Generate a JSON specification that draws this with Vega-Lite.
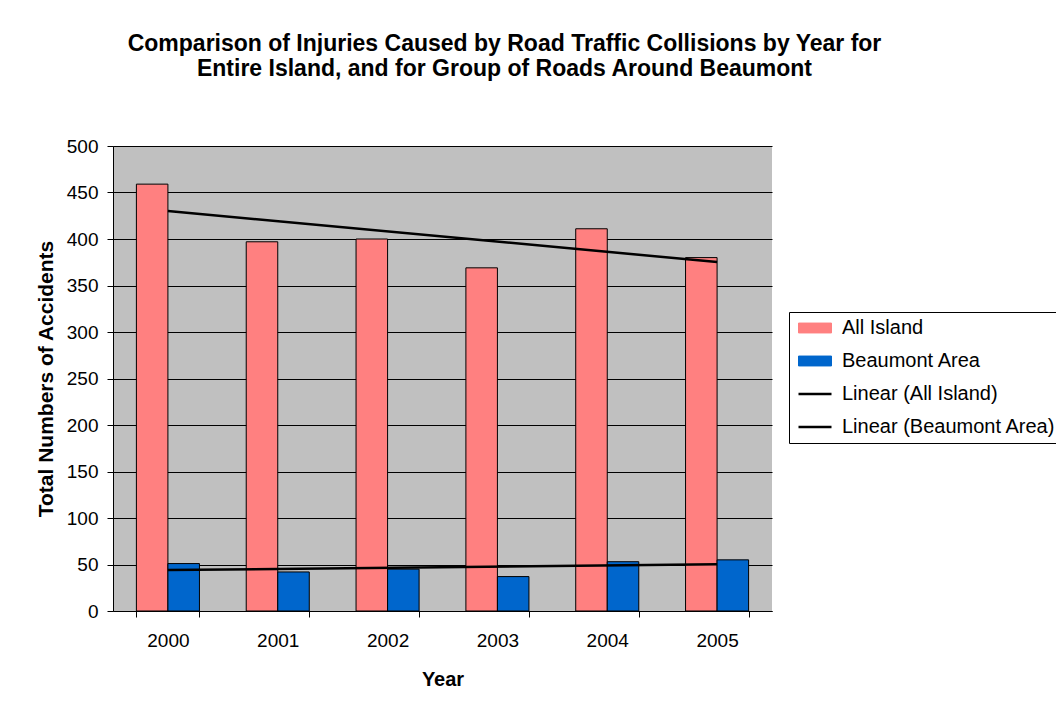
{
  "$schema": "https://vega.github.io/schema/vega-lite/v6.json",
  "width": 659,
  "height": 465,
  "autosize": {"type": "none"},
  "padding": {"left": 113, "top": 146, "right": 284, "bottom": 98},
  "background": "white",
  "config": {"view": {"fill": "#C0C0C0", "stroke": null}},
  "title": {
    "text": ["Comparison of Injuries Caused by Road Traffic Collisions by Year for", "Entire Island, and for Group of Roads Around Beaumont"],
    "font": "Liberation Sans", "fontSize": 23, "fontWeight": "bold", "color": "black",
    "anchor": "middle", "frame": "group", "dx": 62, "offset": 56, "lineHeight": 25
  },
  "data": {"values": [
    {"year": 2000, "series": "All Island", "trend": "Linear (All Island)", "value": 459},
    {"year": 2001, "series": "All Island", "trend": "Linear (All Island)", "value": 397},
    {"year": 2002, "series": "All Island", "trend": "Linear (All Island)", "value": 400},
    {"year": 2003, "series": "All Island", "trend": "Linear (All Island)", "value": 369},
    {"year": 2004, "series": "All Island", "trend": "Linear (All Island)", "value": 411},
    {"year": 2005, "series": "All Island", "trend": "Linear (All Island)", "value": 380},
    {"year": 2000, "series": "Beaumont Area", "trend": "Linear (Beaumont Area)", "value": 51},
    {"year": 2001, "series": "Beaumont Area", "trend": "Linear (Beaumont Area)", "value": 42},
    {"year": 2002, "series": "Beaumont Area", "trend": "Linear (Beaumont Area)", "value": 45},
    {"year": 2003, "series": "Beaumont Area", "trend": "Linear (Beaumont Area)", "value": 37},
    {"year": 2004, "series": "Beaumont Area", "trend": "Linear (Beaumont Area)", "value": 53},
    {"year": 2005, "series": "Beaumont Area", "trend": "Linear (Beaumont Area)", "value": 55}
  ]},
  "layer": [
    {
      "mark": {"type": "bar", "stroke": "black", "strokeWidth": 1},
      "encoding": {
        "x": {
          "field": "year", "type": "ordinal",
          "scale": {"paddingInner": 0.426, "paddingOuter": 0.213},
          "axis": {
            "title": "Year", "titleFont": "Liberation Sans", "titleFontSize": 20, "titleFontWeight": "bold", "titleColor": "black", "titlePadding": 19,
            "labelAngle": 0, "labelFont": "Liberation Sans", "labelFontSize": 19, "labelColor": "black", "labelPadding": 14,
            "tickBand": "extent", "tickColor": "black", "tickSize": 6, "domainColor": "black", "grid": false
          }
        },
        "xOffset": {"field": "series", "type": "nominal", "sort": ["All Island", "Beaumont Area"], "scale": {"paddingInner": 0, "paddingOuter": 0}},
        "y": {
          "field": "value", "type": "quantitative",
          "scale": {"domain": [0, 500], "nice": false},
          "axis": {
            "title": "Total Numbers of Accidents", "titleFont": "Liberation Sans", "titleFontSize": 21, "titleFontWeight": "bold", "titleColor": "black", "titlePadding": 10,
            "values": [0, 50, 100, 150, 200, 250, 300, 350, 400, 450, 500],
            "labelFont": "Liberation Sans", "labelFontSize": 19, "labelColor": "black", "labelPadding": 9,
            "grid": true, "gridColor": "black", "gridOpacity": 1, "gridWidth": 1,
            "tickColor": "black", "tickSize": 6, "domainColor": "black"
          }
        },
        "color": {
          "field": "series", "type": "nominal",
          "scale": {
            "domain": ["All Island", "Beaumont Area", "Linear (All Island)", "Linear (Beaumont Area)"],
            "range": ["#FF8080", "#0066CC", "black", "black"]
          },
          "legend": {
            "title": null, "orient": "none", "legendX": 676, "legendY": 166,
            "strokeColor": "black", "fillColor": "white", "padding": 6,
            "labelFont": "Liberation Sans", "labelFontSize": 20, "labelColor": "black", "labelOffset": 17, "labelLimit": 400,
            "symbolSize": 1089, "symbolOffset": 10, "rowPadding": 13,
            "symbolStrokeColor": "black",
            "encode": {
              "symbols": {
                "update": {
                  "shape": {"signal": "indexof(['All Island','Beaumont Area'], datum.value) >= 0 ? 'M-1,-0.3L1,-0.3L1,0.3L-1,0.3Z' : 'M-1,0L1,0'"},
                  "stroke": {"value": "black"},
                  "strokeWidth": {"signal": "indexof(['All Island','Beaumont Area'], datum.value) >= 0 ? 1 : 2.5"},
                  "opacity": {"value": 1}
                }
              }
            }
          }
        }
      }
    },
    {
      "transform": [{"regression": "value", "on": "year", "groupby": ["trend"]}],
      "mark": {"type": "line", "strokeWidth": 2.5},
      "encoding": {
        "x": {"field": "year", "type": "ordinal"},
        "y": {"field": "value", "type": "quantitative"},
        "color": {"field": "trend", "type": "nominal", "legend": null}
      }
    }
  ]
}
